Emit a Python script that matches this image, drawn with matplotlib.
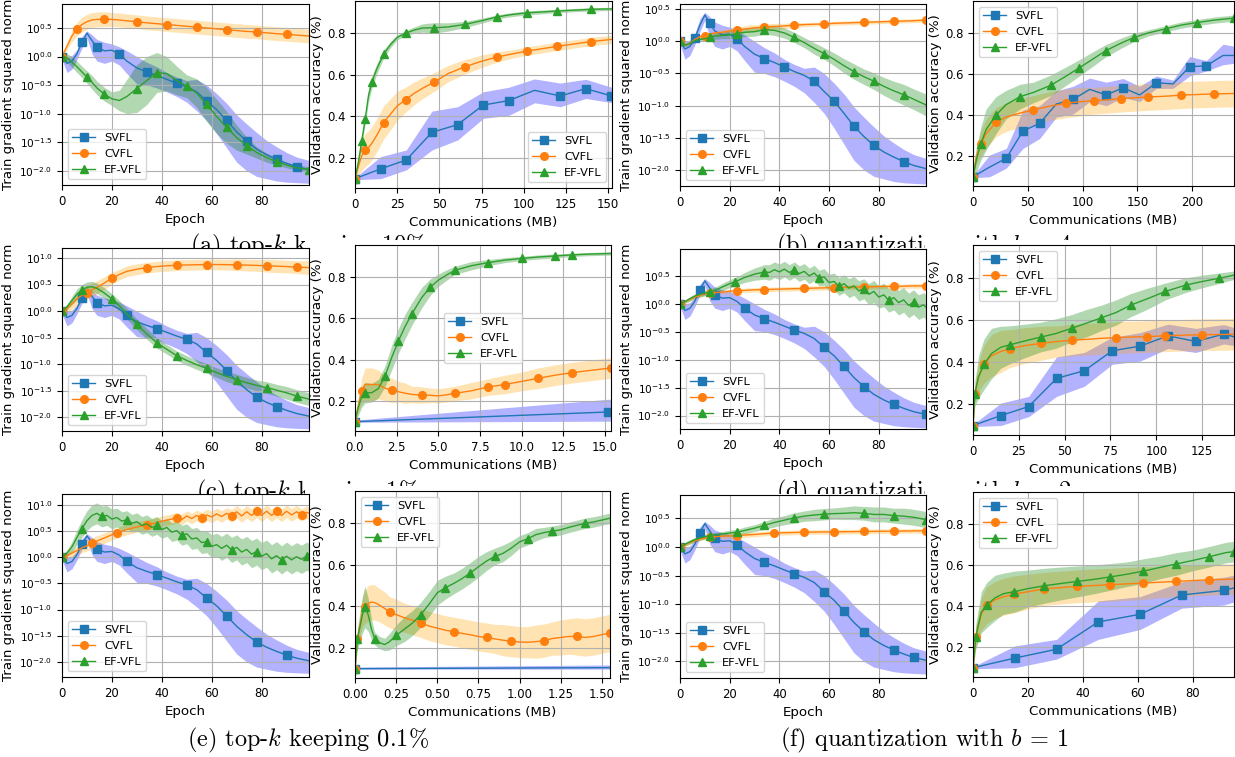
import numpy as np
import matplotlib.pyplot as plt
from matplotlib.ticker import MultipleLocator, FuncFormatter
from matplotlib.patches import Rectangle

W, H = 1235, 757

plt.rcParams['xtick.labelsize'] = 8.4
plt.rcParams['ytick.labelsize'] = 8.4
plt.rcParams['axes.labelsize'] = 9.6
plt.rcParams['legend.fontsize'] = 8.2

# ---------------- gradient norm panels (log10 values) ----------------
epochs = [0, 2, 4, 6, 8, 10, 12, 14, 17, 20, 23, 26, 30, 34, 38, 42, 46, 50, 54, 58,
          62, 66, 70, 74, 78, 82, 86, 90, 94, 99]
# finer grid for the curves that oscillate epoch to epoch
epochs_fine = [0, 2, 4, 6, 8, 10, 12, 14, 16, 18, 20, 22, 24, 26, 28, 30, 32, 34, 36, 38,
               40, 42, 44, 46, 48, 50, 52, 54, 56, 58, 60, 62, 64, 66, 68, 70, 72, 74, 76, 78,
               80, 82, 84, 86, 88, 90, 92, 94, 96, 98, 99]

svfl_gn = [0.0, -0.12, -0.08, 0.05, 0.25, 0.41, 0.28, 0.16, 0.10, 0.11, 0.04, -0.08, -0.20, -0.27, -0.33,
           -0.40, -0.47, -0.53, -0.62, -0.78, -0.93, -1.12, -1.32, -1.48, -1.62, -1.72, -1.80, -1.87, -1.93, -1.98]
svfl_gn_lo = [-0.05, -0.28, -0.22, -0.05, 0.15, 0.33, 0.05, -0.08, -0.12, -0.08, -0.15, -0.30, -0.48, -0.50, -0.55,
              -0.62, -0.70, -0.80, -0.95, -1.12, -1.35, -1.60, -1.85, -2.00, -2.10, -2.14, -2.18, -2.20, -2.21, -2.22]
svfl_gn_hi = [0.05, 0.0, 0.02, 0.12, 0.35, 0.45, 0.38, 0.30, 0.25, 0.22, 0.17, 0.10, 0.0, -0.10, -0.18,
              -0.28, -0.36, -0.42, -0.40, -0.50, -0.65, -0.82, -1.02, -1.18, -1.33, -1.47, -1.58, -1.68, -1.76, -1.82]

# (a) top-k 10%
a1_cvfl = [0.0, 0.18, 0.36, 0.48, 0.56, 0.61, 0.64, 0.65, 0.655, 0.65, 0.64, 0.625, 0.61, 0.59, 0.575,
           0.56, 0.545, 0.53, 0.515, 0.50, 0.485, 0.47, 0.455, 0.44, 0.43, 0.415, 0.40, 0.39, 0.375, 0.36]
a1_cvfl_w = [0.02, 0.06, 0.10, 0.12, 0.13, 0.13, 0.13, 0.13, 0.13, 0.12, 0.12, 0.12, 0.12, 0.12, 0.12,
             0.12, 0.12, 0.12, 0.12, 0.12, 0.12, 0.12, 0.12, 0.12, 0.12, 0.12, 0.12, 0.12, 0.12, 0.12]
a1_ef = [0.0, -0.02, -0.10, -0.18, -0.27, -0.36, -0.45, -0.55, -0.66, -0.74, -0.77, -0.70, -0.56, -0.42, -0.28,
         -0.30, -0.42, -0.52, -0.64, -0.84, -1.05, -1.24, -1.42, -1.56, -1.68, -1.77, -1.84, -1.90, -1.95, -1.98]
a1_ef_w = [0.06, 0.08, 0.09, 0.10, 0.10, 0.11, 0.12, 0.12, 0.12, 0.12, 0.18, 0.30, 0.42, 0.42, 0.35,
           0.30, 0.25, 0.20, 0.25, 0.30, 0.30, 0.28, 0.22, 0.15, 0.10, 0.08, 0.06, 0.05, 0.05, 0.05]

# (b) quantization b=4
a2_cvfl = [0.0, -0.06, -0.03, 0.03, 0.07, 0.09, 0.11, 0.13, 0.14, 0.16, 0.18, 0.19, 0.21, 0.22, 0.23,
           0.24, 0.25, 0.26, 0.265, 0.27, 0.28, 0.285, 0.29, 0.295, 0.30, 0.305, 0.31, 0.315, 0.32, 0.33]
a2_cvfl_w = [0.02, 0.02, 0.02, 0.03, 0.03, 0.03, 0.03, 0.03, 0.04, 0.04, 0.04, 0.05, 0.05, 0.05, 0.05,
             0.04, 0.04, 0.03, 0.03, 0.03, 0.03, 0.03, 0.03, 0.03, 0.03, 0.03, 0.03, 0.03, 0.03, 0.03]
a2_ef = [0.0, -0.06, -0.03, 0.01, 0.03, 0.04, 0.06, 0.08, 0.09, 0.10, 0.12, 0.14, 0.15, 0.18, 0.17,
         0.13, 0.06, -0.02, -0.11, -0.19, -0.28, -0.38, -0.47, -0.55, -0.62, -0.70, -0.77, -0.83, -0.90, -0.99]
a2_ef_w = [0.02, 0.02, 0.03, 0.03, 0.03, 0.04, 0.04, 0.05, 0.05, 0.06, 0.06, 0.07, 0.07, 0.07, 0.08,
           0.08, 0.08, 0.08, 0.09, 0.09, 0.10, 0.11, 0.12, 0.12, 0.13, 0.14, 0.15, 0.16, 0.16, 0.17]

# (c) top-k 1%
a3_cvfl = [0.0, 0.05, 0.14, 0.23, 0.30, 0.35, 0.40, 0.45, 0.53, 0.62, 0.69, 0.75, 0.79, 0.82, 0.84,
           0.855, 0.865, 0.87, 0.875, 0.878, 0.878, 0.876, 0.873, 0.868, 0.862, 0.855, 0.848, 0.84, 0.83, 0.82]
a3_cvfl_w = [0.03, 0.06, 0.10, 0.12, 0.13, 0.13, 0.13, 0.12, 0.12, 0.11, 0.10, 0.10, 0.10, 0.10, 0.10,
             0.10, 0.10, 0.10, 0.10, 0.10, 0.10, 0.10, 0.11, 0.11, 0.11, 0.12, 0.12, 0.12, 0.12, 0.13]
a3_ef = [0.0, 0.08, 0.20, 0.32, 0.40, 0.45, 0.46, 0.43, 0.34, 0.23, 0.10, -0.05, -0.25, -0.43, -0.60,
         -0.72, -0.84, -0.93, -1.01, -1.08, -1.16, -1.23, -1.29, -1.35, -1.40, -1.44, -1.49, -1.54, -1.60, -1.66]
a3_ef_w = [0.03, 0.05, 0.08, 0.10, 0.10, 0.10, 0.10, 0.10, 0.10, 0.10, 0.10, 0.10, 0.10, 0.10, 0.10,
           0.09, 0.09, 0.09, 0.09, 0.09, 0.09, 0.10, 0.10, 0.10, 0.10, 0.11, 0.11, 0.12, 0.12, 0.12]

# (d) quantization b=2  (EF-VFL on the fine grid)
a4_cvfl = [0.0, 0.04, 0.08, 0.12, 0.15, 0.18, 0.19, 0.20, 0.21, 0.225, 0.235, 0.24, 0.25, 0.255, 0.26,
           0.265, 0.27, 0.275, 0.28, 0.285, 0.29, 0.295, 0.30, 0.30, 0.305, 0.31, 0.31, 0.315, 0.32, 0.32]
a4_cvfl_w = [0.02, 0.03, 0.03, 0.03, 0.03, 0.03, 0.03, 0.03, 0.03, 0.03, 0.03, 0.04, 0.04, 0.04, 0.04,
             0.04, 0.04, 0.04, 0.04, 0.04, 0.04, 0.04, 0.04, 0.04, 0.04, 0.04, 0.04, 0.04, 0.04, 0.04]
a4_ef = [0.0, 0.04, 0.09, 0.14, 0.17, 0.19, 0.21, 0.24, 0.28, 0.32,
         0.36, 0.39, 0.43, 0.47, 0.50, 0.53, 0.55, 0.57, 0.56, 0.61,
         0.57, 0.62, 0.56, 0.61, 0.54, 0.58, 0.50, 0.55, 0.46, 0.48,
         0.38, 0.40, 0.31, 0.36, 0.28, 0.32, 0.23, 0.27, 0.17, 0.22,
         0.12, 0.16, 0.06, 0.11, 0.02, 0.07, -0.03, 0.03, -0.06, -0.02, -0.06]
a4_ef_w = [0.03, 0.03, 0.04, 0.04, 0.05, 0.05, 0.05, 0.06, 0.06, 0.07,
           0.07, 0.08, 0.08, 0.09, 0.10, 0.11, 0.12, 0.13, 0.14, 0.14,
           0.14, 0.14, 0.14, 0.14, 0.14, 0.14, 0.14, 0.14, 0.14, 0.15,
           0.15, 0.15, 0.16, 0.16, 0.17, 0.17, 0.18, 0.18, 0.19, 0.20,
           0.20, 0.21, 0.21, 0.22, 0.22, 0.22, 0.22, 0.22, 0.22, 0.22, 0.22]

# (e) top-k 0.1%  (both on the fine grid)
a5_cvfl = [0.0, 0.03, 0.08, 0.13, 0.18, 0.22, 0.27, 0.31, 0.35, 0.39,
           0.43, 0.46, 0.50, 0.53, 0.555, 0.58, 0.60, 0.62, 0.64, 0.66,
           0.69, 0.71, 0.73, 0.76, 0.72, 0.79, 0.74, 0.80, 0.75, 0.81,
           0.77, 0.83, 0.78, 0.84, 0.79, 0.87, 0.79, 0.87, 0.80, 0.88,
           0.80, 0.88, 0.80, 0.88, 0.80, 0.88, 0.81, 0.87, 0.81, 0.86, 0.84]
a5_cvfl_w = [0.03, 0.05, 0.07, 0.08, 0.09, 0.10, 0.10, 0.10, 0.10, 0.10,
             0.10, 0.10, 0.10, 0.10, 0.10, 0.10, 0.10, 0.10, 0.10, 0.10,
             0.10, 0.10, 0.10, 0.10, 0.10, 0.10, 0.10, 0.10, 0.11, 0.11,
             0.11, 0.11, 0.11, 0.11, 0.12, 0.12, 0.12, 0.12, 0.12, 0.12,
             0.12, 0.12, 0.12, 0.12, 0.12, 0.12, 0.12, 0.12, 0.12, 0.12, 0.12]
a5_ef = [0.0, 0.08, 0.20, 0.38, 0.55, 0.70, 0.80, 0.84, 0.78, 0.80,
         0.73, 0.76, 0.69, 0.72, 0.65, 0.68, 0.61, 0.64, 0.57, 0.61,
         0.53, 0.57, 0.48, 0.51, 0.42, 0.45, 0.35, 0.37, 0.28, 0.30,
         0.21, 0.24, 0.17, 0.23, 0.14, 0.19, 0.10, 0.15, 0.06, 0.11,
         0.02, 0.07, -0.03, 0.03, -0.05, 0.02, -0.05, 0.01, -0.04, 0.02, 0.0]
a5_ef_w = [0.04, 0.06, 0.10, 0.14, 0.17, 0.19, 0.20, 0.20, 0.20, 0.19,
           0.19, 0.18, 0.18, 0.17, 0.17, 0.17, 0.17, 0.17, 0.17, 0.17,
           0.17, 0.17, 0.18, 0.18, 0.19, 0.19, 0.20, 0.20, 0.21, 0.21,
           0.22, 0.22, 0.23, 0.23, 0.24, 0.24, 0.25, 0.25, 0.26, 0.26,
           0.26, 0.26, 0.27, 0.27, 0.27, 0.27, 0.27, 0.27, 0.27, 0.27, 0.27]

# (f) quantization b=1
a6_cvfl = [0.0, 0.04, 0.08, 0.11, 0.14, 0.16, 0.17, 0.18, 0.19, 0.195, 0.20, 0.21, 0.22, 0.235, 0.245,
           0.25, 0.255, 0.26, 0.262, 0.264, 0.266, 0.268, 0.27, 0.272, 0.274, 0.276, 0.278, 0.28, 0.282, 0.285]
a6_cvfl_w = [0.02, 0.03, 0.03, 0.03, 0.03, 0.03, 0.03, 0.03, 0.04, 0.04, 0.04, 0.04, 0.04, 0.04, 0.04,
             0.04, 0.04, 0.04, 0.04, 0.04, 0.04, 0.04, 0.04, 0.04, 0.04, 0.04, 0.04, 0.04, 0.04, 0.04]
a6_ef = [0.0, 0.05, 0.09, 0.13, 0.16, 0.18, 0.20, 0.21, 0.23, 0.245, 0.26, 0.29, 0.33, 0.38, 0.43,
         0.47, 0.51, 0.54, 0.56, 0.575, 0.585, 0.59, 0.60, 0.59, 0.57, 0.57, 0.55, 0.54, 0.52, 0.48]
a6_ef_w = [0.03, 0.03, 0.04, 0.04, 0.04, 0.04, 0.04, 0.04, 0.04, 0.05, 0.05, 0.06, 0.06, 0.07, 0.08,
           0.08, 0.09, 0.09, 0.10, 0.10, 0.10, 0.11, 0.12, 0.12, 0.13, 0.13, 0.13, 0.14, 0.14, 0.14]

# ---------------- validation accuracy panels ----------------
svfl_mb = [0, 15.2, 30.4, 45.6, 60.8, 76.0, 91.2, 106.4, 121.6, 136.8, 152.0, 167.2, 182.4, 197.6, 212.8, 228.0, 243.2]
svfl_acc = [0.10, 0.147, 0.19, 0.323, 0.36, 0.454, 0.476, 0.525, 0.498, 0.533, 0.498, 0.557, 0.552, 0.635, 0.64, 0.69, 0.69]
svfl_acc_lo = [0.095, 0.10, 0.142, 0.238, 0.286, 0.39, 0.405, 0.465, 0.446, 0.486, 0.466, 0.53, 0.53, 0.59, 0.615, 0.645, 0.655]
svfl_acc_hi = [0.105, 0.206, 0.238, 0.425, 0.446, 0.518, 0.54, 0.58, 0.56, 0.578, 0.54, 0.59, 0.57, 0.685, 0.665, 0.745, 0.73]

b1_mb = [0, 2, 4, 6, 8, 10, 13, 17, 21, 25, 30, 35, 40, 47, 55, 65, 75, 84, 93, 102, 120, 140, 152]
b1_cvfl = [0.10, 0.16, 0.21, 0.238, 0.25, 0.27, 0.31, 0.37, 0.41, 0.45, 0.48, 0.51, 0.535, 0.565, 0.605,
           0.638, 0.665, 0.685, 0.70, 0.714, 0.737, 0.76, 0.77]
b1_cvfl_w = [0.0, 0.04, 0.07, 0.08, 0.08, 0.08, 0.08, 0.08, 0.075, 0.07, 0.06, 0.055, 0.05, 0.045, 0.04,
             0.035, 0.03, 0.025, 0.02, 0.02, 0.02, 0.02, 0.02]
b1_ef = [0.10, 0.18, 0.28, 0.385, 0.50, 0.565, 0.63, 0.70, 0.745, 0.78, 0.80, 0.815, 0.825, 0.826, 0.83,
         0.842, 0.86, 0.878, 0.89, 0.898, 0.907, 0.915, 0.917]
b1_ef_w = [0.005, 0.02, 0.02, 0.025, 0.03, 0.03, 0.025, 0.02, 0.015, 0.012, 0.012, 0.015, 0.02, 0.025, 0.02,
           0.015, 0.012, 0.01, 0.01, 0.01, 0.008, 0.008, 0.008]

b2_mb = [0, 3, 7, 12, 21, 30, 43, 55, 71, 85, 97, 110, 121, 135, 147, 160, 176, 190, 204, 220, 238]
b2_cvfl = [0.10, 0.20, 0.26, 0.31, 0.365, 0.39, 0.41, 0.425, 0.445, 0.457, 0.465, 0.47, 0.474, 0.48,
           0.484, 0.488, 0.492, 0.497, 0.50, 0.503, 0.505]
b2_cvfl_w = [0.01, 0.04, 0.06, 0.07, 0.07, 0.07, 0.07, 0.07, 0.07, 0.07, 0.07, 0.065, 0.065, 0.065,
             0.065, 0.065, 0.065, 0.065, 0.065, 0.065, 0.065]
b2_ef = [0.10, 0.18, 0.26, 0.33, 0.40, 0.45, 0.49, 0.51, 0.545, 0.59, 0.63, 0.675, 0.713, 0.75,
         0.778, 0.80, 0.82, 0.838, 0.85, 0.862, 0.872]
b2_ef_w = [0.02, 0.06, 0.08, 0.10, 0.09, 0.07, 0.06, 0.05, 0.05, 0.045, 0.04, 0.035, 0.03, 0.025,
           0.02, 0.015, 0.015, 0.015, 0.015, 0.015, 0.015]

b3_mb = [0, 0.2, 0.4, 0.6, 1.0, 1.4, 1.8, 2.2, 2.6, 3.0, 3.4, 4.0, 4.5, 5.0, 5.5, 6.0, 7.0, 8.0, 9.0,
         10.0, 11.0, 12.0, 13.0, 14.0, 15.36]
b3_cvfl = [0.10, 0.18, 0.25, 0.28, 0.28, 0.28, 0.262, 0.252, 0.245, 0.238, 0.232, 0.229, 0.228, 0.225,
           0.23, 0.237, 0.25, 0.268, 0.28, 0.295, 0.31, 0.325, 0.337, 0.347, 0.36]
b3_cvfl_w = [0.0, 0.03, 0.06, 0.08, 0.08, 0.07, 0.06, 0.06, 0.05, 0.05, 0.04, 0.04, 0.035, 0.035,
             0.035, 0.035, 0.04, 0.04, 0.045, 0.045, 0.05, 0.05, 0.05, 0.05, 0.05]
b3_ef = [0.10, 0.17, 0.22, 0.24, 0.24, 0.26, 0.32, 0.41, 0.49, 0.56, 0.62, 0.70, 0.75, 0.785,
         0.81, 0.833, 0.855, 0.87, 0.882, 0.89, 0.897, 0.902, 0.907, 0.911, 0.914]
b3_ef_w = [0.0, 0.04, 0.05, 0.05, 0.045, 0.045, 0.05, 0.06, 0.06, 0.06, 0.055, 0.05, 0.04, 0.03,
           0.025, 0.02, 0.02, 0.015, 0.012, 0.01, 0.01, 0.01, 0.008, 0.008, 0.008]

b4_mb = [0, 1, 3, 6, 10, 15, 20, 28, 37, 45, 54, 62, 70, 78, 86, 95, 105, 116, 125, 134, 142.4]
b4_cvfl = [0.10, 0.25, 0.33, 0.39, 0.43, 0.45, 0.464, 0.478, 0.489, 0.497, 0.504, 0.508, 0.513, 0.516,
           0.519, 0.521, 0.525, 0.528, 0.53, 0.531, 0.532]
b4_cvfl_w = [0.01, 0.04, 0.07, 0.09, 0.1, 0.1, 0.09, 0.085, 0.08, 0.075, 0.075, 0.075, 0.075, 0.075,
             0.075, 0.075, 0.075, 0.075, 0.075, 0.075, 0.075]
b4_ef = [0.10, 0.25, 0.33, 0.39, 0.44, 0.47, 0.482, 0.50, 0.519, 0.535, 0.561, 0.585, 0.61, 0.635,
         0.67, 0.70, 0.735, 0.765, 0.782, 0.797, 0.812]
b4_ef_w = [0.01, 0.06, 0.1, 0.12, 0.12, 0.1, 0.09, 0.08, 0.07, 0.07, 0.065, 0.065, 0.06, 0.06,
           0.055, 0.05, 0.04, 0.035, 0.03, 0.025, 0.02]

b5_mb = [0, 0.015, 0.03, 0.045, 0.06, 0.08, 0.1, 0.12, 0.15, 0.18, 0.21, 0.25, 0.3, 0.35, 0.4, 0.45,
         0.5, 0.55, 0.6, 0.65, 0.7, 0.75, 0.8, 0.85, 0.9, 0.95, 1.0, 1.05, 1.1, 1.15, 1.2, 1.25, 1.3,
         1.35, 1.4, 1.45, 1.55]
b5_cvfl = [0.10, 0.245, 0.31, 0.37, 0.397, 0.415, 0.42, 0.418, 0.405, 0.39, 0.372, 0.36, 0.345, 0.333,
           0.32, 0.305, 0.295, 0.285, 0.278, 0.27, 0.263, 0.255, 0.25, 0.243, 0.237, 0.232, 0.228,
           0.227, 0.23, 0.235, 0.245, 0.25, 0.255, 0.255, 0.25, 0.255, 0.272]
b5_cvfl_w = [0.0, 0.03, 0.05, 0.07, 0.08, 0.085, 0.085, 0.085, 0.08, 0.08, 0.075, 0.075, 0.07, 0.07,
             0.07, 0.07, 0.07, 0.07, 0.07, 0.07, 0.07, 0.07, 0.07, 0.07, 0.075, 0.075, 0.075, 0.075,
             0.08, 0.08, 0.08, 0.085, 0.085, 0.09, 0.09, 0.09, 0.09]
b5_ef = [0.10, 0.245, 0.30, 0.36, 0.397, 0.36, 0.29, 0.245, 0.225, 0.216, 0.23, 0.26, 0.29, 0.32,
         0.36, 0.41, 0.465, 0.49, 0.51, 0.533, 0.56, 0.59, 0.618, 0.64, 0.655, 0.68, 0.71, 0.725,
         0.745, 0.755, 0.762, 0.768, 0.78, 0.79, 0.80, 0.806, 0.824]
b5_ef_w = [0.0, 0.05, 0.07, 0.09, 0.1, 0.08, 0.05, 0.03, 0.03, 0.03, 0.04, 0.05, 0.06, 0.06, 0.06,
           0.06, 0.06, 0.055, 0.05, 0.05, 0.05, 0.05, 0.045, 0.04, 0.04, 0.035, 0.03, 0.03, 0.03,
           0.025, 0.025, 0.025, 0.025, 0.025, 0.025, 0.025, 0.025]

b6_mb = [0, 1, 3, 5, 8, 11, 15, 20, 26, 32, 38, 44, 50, 56, 62, 68, 74, 80, 86, 92, 95]
b6_cvfl = [0.10, 0.25, 0.36, 0.405, 0.43, 0.445, 0.457, 0.47, 0.484, 0.49, 0.496, 0.50, 0.504, 0.508,
           0.512, 0.516, 0.52, 0.524, 0.528, 0.53, 0.531]
b6_cvfl_w = [0.01, 0.05, 0.08, 0.09, 0.09, 0.09, 0.09, 0.085, 0.08, 0.08, 0.08, 0.08, 0.08, 0.08,
             0.08, 0.075, 0.075, 0.075, 0.075, 0.075, 0.075]
b6_ef = [0.10, 0.25, 0.37, 0.405, 0.44, 0.46, 0.47, 0.485, 0.499, 0.51, 0.52, 0.53, 0.542, 0.555,
         0.57, 0.588, 0.605, 0.622, 0.64, 0.66, 0.665]
b6_ef_w = [0.01, 0.06, 0.1, 0.11, 0.11, 0.1, 0.1, 0.09, 0.085, 0.08, 0.075, 0.07, 0.065, 0.06,
           0.06, 0.055, 0.055, 0.05, 0.05, 0.05, 0.05]

captions = ['(a) top-$k$ keeping 10%', '(b) quantization with $b$ = 4',
            '(c) top-$k$ keeping 1%', '(d) quantization with $b$ = 2',
            '(e) top-$k$ keeping 0.1%', '(f) quantization with $b$ = 1']

fig = plt.figure(figsize=(W / 100, H / 100), dpi=100)


def place(x0, y0, x1, y1):
    return fig.add_axes([x0 / W, 1 - y1 / H, (x1 - x0) / W, (y1 - y0) / H])


def band_line(ax, x, y, lo, hi, lc, fc, mk, label):
    ax.fill_between(x, lo, hi, color=fc, alpha=0.3, linewidth=0)
    ax.plot(x, y, color=lc, marker=mk, markevery=0.1, ms=5.5, lw=1, label=label)


def pow_fmt(v, pos):
    v = round(v, 1) + 0.0
    return '$10^{%.1f}$' % v


def grad_panel(box, ep_c, cvfl, cvfl_w, ep_e, ef, ef_w, ylim):
    ax = place(*box)
    band_line(ax, np.array(epochs), svfl_gn, svfl_gn_lo, svfl_gn_hi, 'tab:blue', 'blue', 's', 'SVFL')
    c, cw = np.array(cvfl), np.array(cvfl_w)
    band_line(ax, np.array(ep_c), c, c - cw, c + cw, 'tab:orange', 'orange', 'o', 'CVFL')
    e, ew = np.array(ef), np.array(ef_w)
    band_line(ax, np.array(ep_e), e, e - ew, e + ew, 'tab:green', 'green', '^', 'EF-VFL')
    ax.set_xlim(0, 99)
    ax.set_ylim(*ylim)
    ax.set_xticks([0, 20, 40, 60, 80])
    ax.yaxis.set_major_locator(MultipleLocator(0.5))
    ax.yaxis.set_major_formatter(FuncFormatter(pow_fmt))
    ax.tick_params(axis='y', labelsize=7.6)
    ax.grid(True)
    ax.set_xlabel('Epoch')
    ax.set_ylabel('Train gradient squared norm')
    ax.yaxis.set_label_coords(-0.19, 0.5)
    ax.legend(loc='lower left')
    return ax


def acc_panel(box, mb, cvfl, cvfl_w, ef, ef_w, xmax, loc):
    ax = place(*box)
    band_line(ax, np.array(svfl_mb), svfl_acc, svfl_acc_lo, svfl_acc_hi, 'tab:blue', 'blue', 's', 'SVFL')
    x = np.array(mb)
    c, cw = np.array(cvfl), np.array(cvfl_w)
    band_line(ax, x, c, c - cw, c + cw, 'tab:orange', 'orange', 'o', 'CVFL')
    e, ew = np.array(ef), np.array(ef_w)
    band_line(ax, x, e, e - ew, e + ew, 'tab:green', 'green', '^', 'EF-VFL')
    ax.set_xlim(0, xmax)
    ax.set_ylim(0.055, 0.955)
    ax.set_yticks([0.2, 0.4, 0.6, 0.8])
    ax.grid(True)
    ax.set_xlabel('Communications (MB)')
    ax.set_ylabel('Validation accuracy (%)')
    ax.yaxis.set_label_coords(-0.12, 0.5)
    ax.legend(loc=loc)
    return ax


# captions of rows 1 and 2 sit partly under the next row of images
cap_pos = [(308, 246), (924, 246), (308, 492), (924, 492), (308, 740), (924, 740)]
for txt, (cx, cy) in zip(captions, cap_pos):
    fig.text(cx / W, 1 - cy / H, txt, ha='center', va='center', fontsize=17.5,
             family='cmr10', math_fontfamily='cm', zorder=-2)

# white image backgrounds of the lower rows (left images start lower than right ones)
for (x0, y0, x1, y1) in [(0, 248, 305, 470), (305, 240, 618, 470), (618, 248, 925, 470), (925, 240, 1235, 470),
                         (0, 494, 305, 700), (305, 486, 618, 700), (618, 494, 925, 700), (925, 486, 1235, 700)]:
    fig.add_artist(Rectangle((x0 / W, 1 - y1 / H), (x1 - x0) / W, (y1 - y0) / H,
                             transform=fig.transFigure, facecolor='white', edgecolor='none', zorder=-1))

grad_panel((62, 4, 309, 185), epochs, a1_cvfl, a1_cvfl_w, epochs, a1_ef, a1_ef_w, (-2.25, 0.92))
acc_panel((355, 1, 612, 188), b1_mb, b1_cvfl, b1_cvfl_w, b1_ef, b1_ef_w, 152.3, 'lower right')
grad_panel((680, 4, 926, 186), epochs, a2_cvfl, a2_cvfl_w, epochs, a2_ef, a2_ef_w, (-2.25, 0.58))
acc_panel((973, 1, 1234, 186), b2_mb, b2_cvfl, b2_cvfl_w, b2_ef, b2_ef_w, 238, 'upper left')

grad_panel((62, 248, 309, 431), epochs, a3_cvfl, a3_cvfl_w, epochs, a3_ef, a3_ef_w, (-2.26, 1.19))
acc_panel((355, 245, 611, 431), b3_mb, b3_cvfl, b3_cvfl_w, b3_ef, b3_ef_w, 15.36, 'center')
grad_panel((680, 249, 926, 429), epochs, a4_cvfl, a4_cvfl_w, epochs_fine, a4_ef, a4_ef_w, (-2.24, 0.98))
acc_panel((973, 245, 1234, 435), b4_mb, b4_cvfl, b4_cvfl_w, b4_ef, b4_ef_w, 142.4, 'upper left')

grad_panel((62, 494, 309, 677), epochs_fine, a5_cvfl, a5_cvfl_w, epochs_fine, a5_ef, a5_ef_w, (-2.29, 1.21))
acc_panel((355, 491, 610, 678), b5_mb, b5_cvfl, b5_cvfl_w, b5_ef, b5_ef_w, 1.55, 'upper left')
grad_panel((680, 495, 926, 678), epochs, a6_cvfl, a6_cvfl_w, epochs, a6_ef, a6_ef_w, (-2.29, 0.91))
acc_panel((973, 492, 1234, 677), b6_mb, b6_cvfl, b6_cvfl_w, b6_ef, b6_ef_w, 95, 'upper left')

fig.savefig('out.png', dpi=100, facecolor='white')
